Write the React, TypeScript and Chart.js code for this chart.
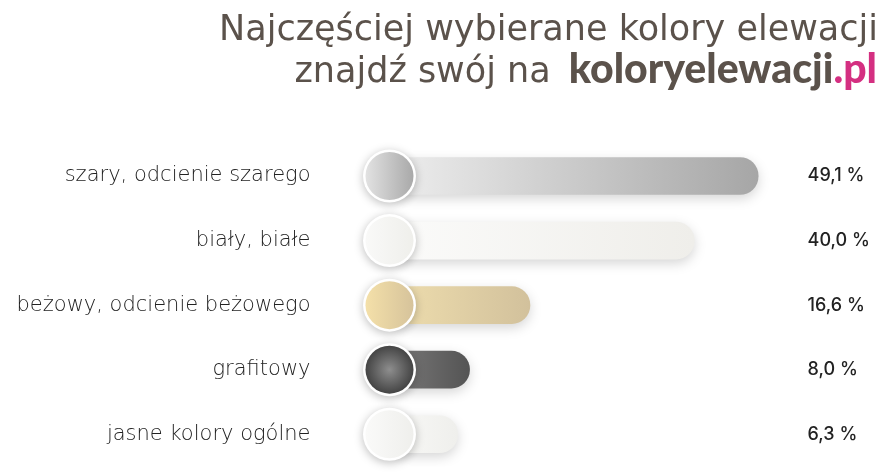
import React, { useEffect, useRef } from "react";
import { Chart, registerables } from "chart.js";

Chart.register(...registerables);

const categories = [
  "szary, odcienie szarego",
  "biały, białe",
  "beżowy, odcienie beżowego",
  "grafitowy",
  "jasne kolory ogólne",
];
const values = [49.1, 40.0, 16.6, 8.0, 6.3];
const valueLabels = ["49,1 %", "40,0 %", "16,6 %", "8,0 %", "6,3 %"];
const barGradients = [
  ["#eeeeee", "#a6a6a6"],
  ["#fbfbfa", "#efeeea"],
  ["#efdeae", "#d2c19c"],
  ["#7c7b7b", "#545454"],
  ["#f9f9f7", "#efefec"],
];
const knobGradients = [
  ["#e2e2e2", "#a9a9a9", "linear"],
  ["#f9f9f8", "#efefeb", "linear"],
  ["#f4e0a9", "#d6c39b", "linear"],
  ["#8e8e8e", "#444444", "radial"],
  ["#fafaf9", "#efefec", "linear"],
];
const titleLine1 = "Najczęściej wybierane kolory elewacji";
const titleLine2 = "znajdź swój na";
const brandName = "koloryelewacji";
const brandTld = ".pl";

const AXIS_START = -3.4;

const titlePlugin = {
  id: "titleText",
  afterDraw(chart: any) {
    const ctx = chart.ctx as CanvasRenderingContext2D;
    ctx.save();
    ctx.textBaseline = "alphabetic";
    ctx.textAlign = "right";
    ctx.fillStyle = "#5b524b";
    ctx.font = "400 35px 'DejaVu Sans'";
    ctx.fillText(titleLine1, 878, 40);
    let x = 877;
    ctx.font = "900 41px Lato";
    ctx.fillStyle = "#d42f81";
    ctx.fillText(brandTld, x, 83);
    x -= ctx.measureText(brandTld).width;
    ctx.fillStyle = "#5b524b";
    ctx.fillText(brandName, x, 83);
    x -= ctx.measureText(brandName).width + 18;
    ctx.font = "400 35px 'DejaVu Sans'";
    ctx.fillText(titleLine2, x, 82);
    ctx.restore();
  },
};

const shadowPlugin = {
  id: "barShadow",
  beforeDatasetsDraw(chart: any) {
    const ctx = chart.ctx as CanvasRenderingContext2D;
    ctx.save();
    ctx.shadowColor = "rgba(0,0,0,0.16)";
    ctx.shadowBlur = 12;
    ctx.shadowOffsetY = 4;
  },
  afterDatasetsDraw(chart: any) {
    const ctx = chart.ctx as CanvasRenderingContext2D;
    ctx.restore();
    const meta = chart.getDatasetMeta(0);
    const cx = chart.scales.x.getPixelForValue(AXIS_START);
    meta.data.forEach((el: any, i: number) => {
      const cy = el.y;
      const R = 26.5;
      const r = 24;
      ctx.save();
      ctx.shadowColor = "rgba(0,0,0,0.26)";
      ctx.shadowBlur = 10;
      ctx.shadowOffsetY = 2;
      ctx.beginPath();
      ctx.arc(cx, cy, R, 0, Math.PI * 2);
      ctx.fillStyle = "#ffffff";
      ctx.fill();
      ctx.restore();
      const [c1, c2, kind] = knobGradients[i];
      let g: CanvasGradient;
      if (kind === "radial") {
        g = ctx.createRadialGradient(cx, cy, 0, cx, cy, r);
      } else {
        g = ctx.createLinearGradient(cx - r, cy, cx + r, cy);
      }
      g.addColorStop(0, c1);
      g.addColorStop(1, c2);
      ctx.save();
      ctx.beginPath();
      ctx.arc(cx, cy, r, 0, Math.PI * 2);
      ctx.fillStyle = g;
      ctx.fill();
      ctx.restore();
    });
  },
};

export default function App() {
  const ref = useRef<HTMLCanvasElement | null>(null);
  useEffect(() => {
    if (!ref.current) return;
    const chart = new Chart(ref.current, {
      type: "bar",
      data: {
        labels: categories,
        datasets: [
          {
            data: values,
            base: AXIS_START,
            barThickness: 37,
            borderRadius: 18.5,
            borderSkipped: false,
            backgroundColor: (c: any) => {
              const i = c.dataIndex;
              const chartObj = c.chart;
              const sx = chartObj.scales?.x;
              if (!sx || i === undefined || !chartObj.chartArea) return barGradients[0][1];
              const x0 = sx.getPixelForValue(AXIS_START);
              const x1 = sx.getPixelForValue(values[i]);
              if (!isFinite(x0) || !isFinite(x1)) return barGradients[i][1];
              const g = chartObj.ctx.createLinearGradient(x0, 0, x1, 0);
              g.addColorStop(0, barGradients[i][0]);
              g.addColorStop(1, barGradients[i][1]);
              return g;
            },
          } as any,
        ],
      },
      options: {
        indexAxis: "y",
        animation: false,
        responsive: true,
        maintainAspectRatio: false,
        layout: { padding: { top: 143.75, bottom: 9.5, left: 0, right: 0 } },
        plugins: {
          legend: { display: false },
          tooltip: { enabled: false },
          title: { display: false },
        },
        scales: {
          x: {
            type: "linear",
            display: false,
            min: AXIS_START,
            max: 54,
          },
          y: {
            type: "category",
            position: "left",
            grid: { display: false, drawTicks: false },
            border: { display: false },
            ticks: {
              padding: 79,
              color: "#222222",
              font: { family: "DejaVu Sans", size: 21, weight: "200" },
            },
            afterFit: (s: any) => {
              s.width = 389.5;
              s.paddingTop = 0;
              s.paddingBottom = 0;
            },
          },
          y2: {
            type: "category",
            position: "right",
            labels: valueLabels,
            offset: true,
            grid: { display: false, drawTicks: false },
            border: { display: false },
            ticks: {
              padding: 15,
              crossAlign: "near",
              color: "#222222",
              font: { family: "Inter", size: 18, weight: "500" },
            },
            afterFit: (s: any) => {
              s.width = 102.4;
              s.paddingTop = 0;
              s.paddingBottom = 0;
            },
          },
        },
      } as any,
      plugins: [shadowPlugin, titlePlugin],
    });
    return () => chart.destroy();
  }, []);
  return (
    <div style={{ position: "absolute", left: 0, top: 0, width: 895, height: 476, background: "#ffffff" }}>
      <canvas ref={ref} />
    </div>
  );
}
